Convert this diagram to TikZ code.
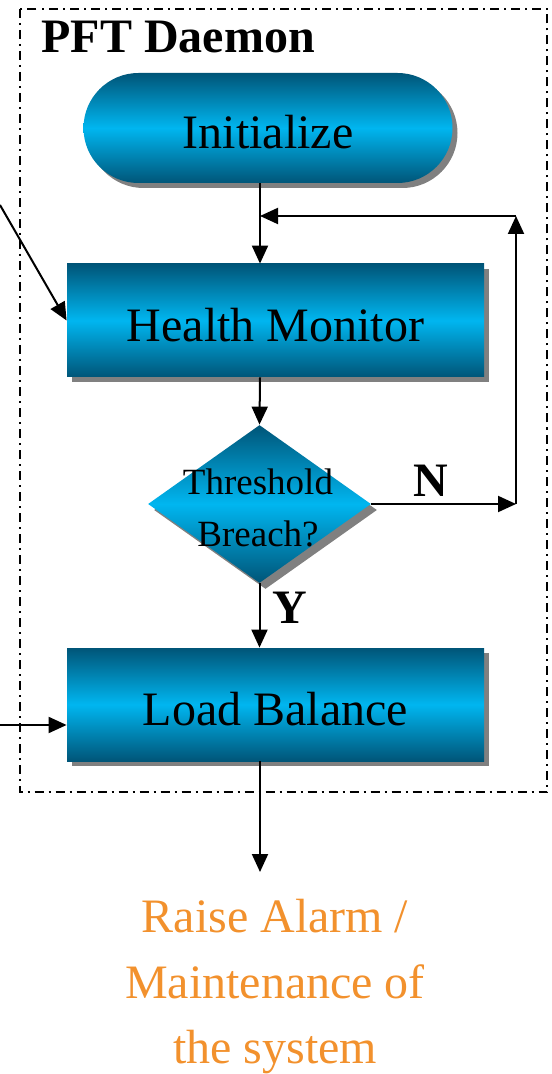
\documentclass[tikz,border=0pt]{standalone}
\usepackage{fontspec}
\setmainfont{Liberation Serif}
\usetikzlibrary{shapes.geometric,shapes.misc,shadows,arrows.meta}
\definecolor{boxdark}{RGB}{0,85,120}
\definecolor{boxlight}{RGB}{0,182,240}
\definecolor{alarmorange}{RGB}{242,145,45}

\begin{document}
\begin{tikzpicture}[x=0.5pt, y=-0.5pt,
    flow/.style={line width=1pt, -{Triangle[length=9pt,width=8pt]}},
    shaded/.style={top color=boxdark, bottom color=boxdark, middle color=boxlight,
      drop shadow={shadow xshift=#1, shadow yshift=-#1, fill=gray, opacity=1},
      inner sep=0pt},
    shaded/.default=2.5pt,
    block/.style={shaded, rectangle, minimum width=208.5pt, minimum height=56.5pt,
      font=\fontsize{24}{28}\selectfont, text height=21pt, text depth=0pt},
    decision/.style={shaded=3pt, diamond, minimum width=111.5pt, minimum height=79pt},
    answer/.style={anchor=base west, inner sep=0pt, font=\fontsize{24}{28}\selectfont\bfseries}]
      \useasboundingbox (0,0) rectangle (551,1074);

      \draw[line width=1pt, dash pattern=on 4.5pt off 2.5pt on 1pt off 2.5pt] (19.5,9) rectangle (547,792);
      \node[anchor=base west, inner sep=0pt, font=\fontsize{24}{28}\selectfont\bfseries] (title) at (41,53) {PFT Daemon};

      \node[shaded, rounded rectangle, minimum width=184.5pt, minimum height=55pt,
        font=\fontsize{24}{28}\selectfont, text height=21pt, text depth=0pt] (init) at (268,128) {Initialize};
      \node[block] (hm) at (275.5,320.5) {Health Monitor};
      \node[decision] (brk) at (259.5,504) {};
      \node[align=center, inner sep=0pt, font=\fontsize{18.5}{26}\selectfont] (brktext) at (258,507.5) {Threshold\\Breach?};
      \node[block] (lb) at (275.5,704.5) {Load Balance};
      \node[align=center, inner sep=0pt, text=alarmorange, font=\fontsize{24}{32.75}\selectfont] (alarm) at (275,987) {Raise Alarm /\\Maintenance of\\the system};

      \node[answer] (no) at (413,496) {N};
      \node[answer] (yes) at (272,623) {Y};

      \coordinate (jn) at (260,216);
      \coordinate (nr) at (516,504);
      \coordinate (nt) at (516,216);
      \coordinate (ext1) at (0,205);
      \coordinate (ext2) at (0,725);
      \coordinate (out) at (260,872);

      \draw[flow] (init.south -| jn) -- (hm.north -| jn);
      \draw[flow] (hm.south -| jn) -- (brk.north);
      \draw[flow] (brk.east) -- (nr);
      \draw[flow] (nr) -- (nt);
      \draw[flow] (nt) -- (jn);
      \draw[flow] (brk.south) -- (lb.north -| brk.south);
      \draw[flow] (ext1) -- (hm.west);
      \draw[flow] (ext2) -- (lb.west |- ext2);
      \draw[flow] (lb.south -| jn) -- (out);
    \end{tikzpicture}
\end{document}
